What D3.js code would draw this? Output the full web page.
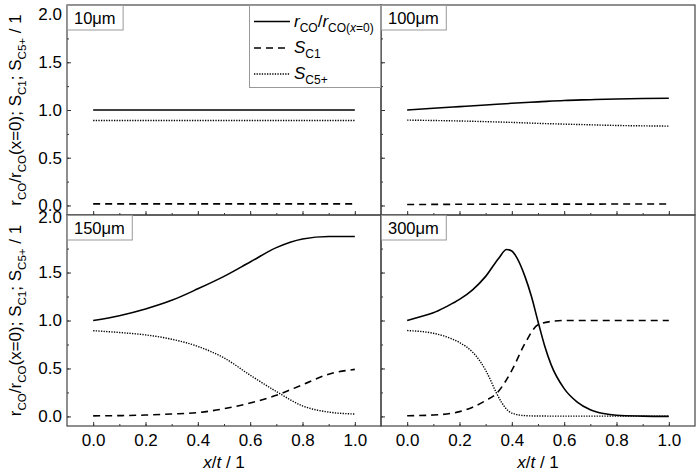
<!DOCTYPE html>
<html><head><meta charset="utf-8">
<script src="https://cdn.jsdelivr.net/npm/d3@7"></script>
<style>
body{margin:0;background:#fff;}
text{font-family:"Liberation Sans",Arial,sans-serif;fill:#000;}
</style></head>
<body><svg id="c" width="697" height="471"></svg>
<script>
// ---------- data ----------
const panelLabels = ["10\u03bcm","100\u03bcm","150\u03bcm","300\u03bcm"];
const xTicks = [0,0.2,0.4,0.6,0.8,1.0];
const yTicks = [0,0.5,1.0,1.5,2.0];
const xGrid = [0,0.1,0.2,0.3,0.4,0.5,0.6,0.7,0.8,0.9,1.0];

const r10  = [1.0,1.0,1.0,1.0,1.0,1.0,1.0,1.0,1.0,1.0,1.0];
const s1_10 = [0.017,0.017,0.017,0.017,0.017,0.017,0.017,0.017,0.017,0.017,0.017];
const s5_10 = [0.89,0.89,0.89,0.89,0.89,0.89,0.89,0.89,0.89,0.89,0.89];

const r100  = [1.0,1.018,1.035,1.052,1.07,1.085,1.10,1.108,1.116,1.12,1.123];
const s1_100 = [0.01,0.011,0.012,0.012,0.013,0.013,0.014,0.014,0.015,0.015,0.015];
const s5_100 = [0.894,0.89,0.885,0.878,0.87,0.86,0.852,0.845,0.838,0.834,0.831];

const r150  = [1.0,1.05,1.12,1.21,1.33,1.46,1.61,1.76,1.85,1.876,1.876];
const s1_150 = [0.006,0.008,0.014,0.025,0.04,0.08,0.14,0.22,0.33,0.44,0.49];
const s5_150 = [0.894,0.875,0.85,0.805,0.73,0.61,0.43,0.26,0.11,0.045,0.025];

const x300r = [0,0.05,0.1,0.15,0.2,0.25,0.3,0.35,0.38,0.4,0.42,0.45,0.475,0.5,0.525,0.55,0.6,0.65,0.7,0.75,0.8,0.9,1.0];
const r300  = [1.0,1.04,1.08,1.145,1.22,1.32,1.46,1.65,1.74,1.725,1.65,1.46,1.25,0.99,0.74,0.54,0.29,0.15,0.07,0.03,0.012,0.003,0.0];
const x300s5 = [0,0.1,0.15,0.2,0.25,0.28,0.3,0.32,0.34,0.36,0.38,0.4,0.45,0.5,0.6,0.8,1.0];
const s5_300 = [0.895,0.867,0.83,0.77,0.67,0.57,0.48,0.37,0.25,0.15,0.075,0.035,0.008,0.004,0.003,0.003,0.003];
const x300s1 = [0,0.1,0.2,0.25,0.3,0.34,0.4,0.45,0.5,0.55,0.6,0.8,1.0];
const s1_300 = [0.007,0.014,0.05,0.095,0.165,0.235,0.48,0.76,0.955,0.99,1.0,1.0,1.0];

const panelData = [
  {r:[xGrid,r10], s1:[xGrid,s1_10], s5:[xGrid,s5_10]},
  {r:[xGrid,r100], s1:[xGrid,s1_100], s5:[xGrid,s5_100]},
  {r:[xGrid,r150], s1:[xGrid,s1_150], s5:[xGrid,s5_150]},
  {r:[x300r,r300], s1:[x300s1,s1_300], s5:[x300s5,s5_300]}
];

// ---------- layout ----------
const svg = d3.select("#c");
const colX = [[67,381],[381,695]];
const rowY = [[5,215],[215,426]];
const styles = {
  r:{w:1.6,dash:null},
  s1:{w:1.6,dash:"7,5"},
  s5:{w:1.4,dash:"1.3,1.3"}
};

function rich(sel, parts, fs){
  parts.forEach(p=>{
    const t = sel.append("tspan").text(p.t);
    if(p.it) t.attr("font-style","italic");
    if(p.sub){ t.attr("font-size",fs*0.68).attr("dy",fs*0.28); }
    if(p.back){ t.attr("dy",-fs*0.28); }
  });
}

panelData.forEach((pd,i)=>{
  const col = i%2, row = Math.floor(i/2);
  const [x0,x1] = colX[col], [y0,y1] = rowY[row];
  const x = d3.scaleLinear().domain([-0.1,1.1]).range([x0,x1]);
  const y = d3.scaleLinear().domain([-0.1,2.1]).range([y1,y0]);
  const g = svg.append("g");

  // lines
  ["s5","s1","r"].forEach(k=>{
    const [xs,ys] = pd[k];
    const pts = xs.map((v,j)=>[v,ys[j]]);
    g.append("path").datum(pts)
      .attr("d", d3.line().x(d=>x(d[0])).y(d=>y(d[1])).curve(d3.curveMonotoneX))
      .attr("fill","none").attr("stroke","#000")
      .attr("stroke-width",styles[k].w)
      .attr("stroke-dasharray",styles[k].dash);
  });

  // axes (inward ticks)
  const xMinor = d3.range(0,1.0001,0.1);
  const yMinor = d3.range(0,2.0001,0.25);
  const ax = g.append("g").attr("transform",`translate(0,${y1})`)
    .call(d3.axisBottom(x).tickValues(xMinor).tickSize(-2).tickFormat(""));
  ax.select(".domain").remove();
  ax.selectAll("line").attr("stroke","#333");
  const ax2 = g.append("g").attr("transform",`translate(0,${y1})`)
    .call(d3.axisBottom(x).tickValues(xTicks).tickSize(-4).tickPadding(8)
      .tickFormat(row===1?d3.format(".1f"):""));
  ax2.select(".domain").remove();
  ax2.selectAll("line").attr("stroke","#333");
  ax2.selectAll("text").attr("font-size",17)
     .attr("font-family","Liberation Sans, Arial, sans-serif");

  const ay = g.append("g").attr("transform",`translate(${x0},0)`)
    .call(d3.axisLeft(y).tickValues(yMinor).tickSize(-2).tickFormat(""));
  ay.select(".domain").remove();
  ay.selectAll("line").attr("stroke","#333");
  const ay2 = g.append("g").attr("transform",`translate(${x0},0)`)
    .call(d3.axisLeft(y).tickValues(yTicks).tickSize(-4).tickPadding(6)
      .tickFormat(col===0?d3.format(".1f"):""));
  ay2.select(".domain").remove();
  ay2.selectAll("line").attr("stroke","#333");
  ay2.selectAll("text").attr("font-size",17).attr("x",-5)
     .attr("font-family","Liberation Sans, Arial, sans-serif");
  if(row===1 && col===0){
    ay2.selectAll("text").filter(d=>d===2.0).attr("dy","-0.15em");
  }

  // frame
  g.append("rect").attr("x",x0).attr("y",y0).attr("width",x1-x0).attr("height",y1-y0)
    .attr("fill","none").attr("stroke","#444").attr("stroke-width",1.2);

  // panel label box
  const lb = g.append("g");
  const t = lb.append("text").attr("x",x0+7).attr("y",y0+19)
    .attr("font-size",16.5).text(panelLabels[i]);
  const bb = t.node().getBBox();
  lb.insert("rect","text").attr("x",x0+0.5).attr("y",y0+0.5)
    .attr("width",bb.width+14).attr("height",24.5)
    .attr("fill","#fff").attr("stroke","#999").attr("stroke-width",1);

  // x axis title
  if(row===1){
    const xt = svg.append("text").attr("x",(x0+x1)/2).attr("y",468)
      .attr("text-anchor","middle").attr("font-size",17);
    rich(xt,[{t:"x",it:true},{t:"/"},{t:"t",it:true},{t:" / 1"}],17);
  }
  // y axis title
  if(col===0){
    const yt = svg.append("text")
      .attr("transform",`translate(21,${(y0+y1)/2}) rotate(-90)`)
      .attr("text-anchor","middle").attr("font-size",17);
    rich(yt,[{t:"r"},{t:"CO",sub:true},{t:"/r",back:true},{t:"CO",sub:true},
             {t:"(x=0); S",back:true},{t:"C1",sub:true},{t:"; S",back:true},
             {t:"C5+",sub:true},{t:" / 1",back:true}],17);
  }
});

// ---------- legend ----------
const leg = svg.append("g");
leg.append("rect").attr("x",249.5).attr("y",5.5).attr("width",131).attr("height",82)
  .attr("fill","#fff").attr("stroke","#999").attr("stroke-width",1);
const legItems = [
  {k:"r", y:21.5, parts:[{t:"r",it:true},{t:"CO",sub:true},{t:"/",back:true},{t:"r",it:true},
     {t:"CO(",sub:true},{t:"x",it:true,sub2:true},{t:"=0)",sub2:true}]},
  {k:"s1", y:48, parts:[{t:"S",it:true},{t:"C1",sub:true}]},
  {k:"s5", y:74, parts:[{t:"S",it:true},{t:"C5+",sub:true}]}
];
legItems.forEach(it=>{
  leg.append("line").attr("x1",254).attr("x2",290).attr("y1",it.y).attr("y2",it.y)
    .attr("stroke","#000").attr("stroke-width",styles[it.k].w)
    .attr("stroke-dasharray",styles[it.k].dash);
  const t = leg.append("text").attr("x",294).attr("y",it.y+5).attr("font-size",17);
  it.parts.forEach(p=>{
    const s = t.append("tspan").text(p.t);
    if(p.it) s.attr("font-style","italic");
    if(p.sub){ s.attr("font-size",12).attr("dy",5); }
    if(p.sub2){ s.attr("font-size",12); }
    if(p.back){ s.attr("dy",-5); }
  });
});
</script></body></html>
